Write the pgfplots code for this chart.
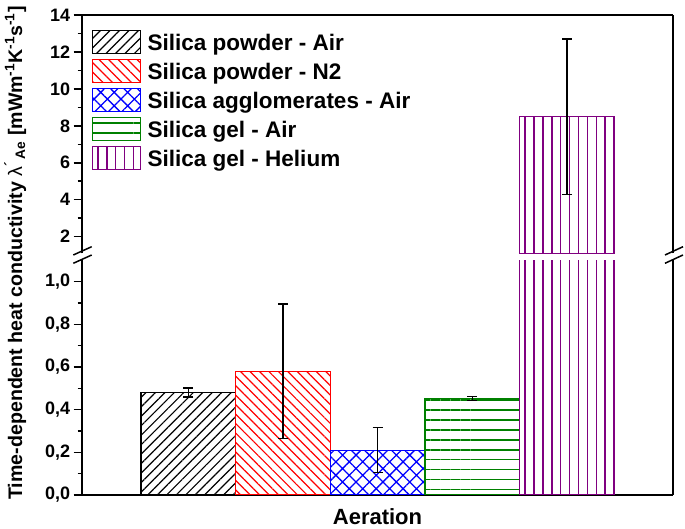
\documentclass[border=0pt]{standalone}
\usepackage{fontspec}
\setmainfont{Liberation Sans}
\usepackage{pgfplots}
\pgfplotsset{compat=1.18}
\usetikzlibrary{patterns.meta}
\definecolor{myred}{RGB}{255,0,0}
\definecolor{myblue}{RGB}{0,0,255}
\definecolor{mygreen}{RGB}{0,128,0}
\definecolor{mypurple}{RGB}{128,0,128}
\tikzset{
 s1/.style={draw=black, line width=1.3pt, pattern={Lines[angle=45,distance=6.7pt,line width=1.2pt]}, pattern color=black},
 s2/.style={draw=myred, line width=1.3pt, pattern={Lines[angle=-45,distance=6.7pt,line width=1.2pt]}, pattern color=myred},
 s3/.style={draw=myblue, line width=1.3pt, pattern={Hatch[angle=45,distance=9.5pt,line width=1.3pt]}, pattern color=myblue},
 s4/.style={draw=mygreen, line width=1.3pt, pattern={Lines[angle=0,distance=9.9pt,line width=1.6pt]}, pattern color=mygreen},
 s5/.style={draw=mypurple, line width=1.3pt, pattern={Lines[angle=90,distance=8.9pt,line width=1.5pt]}, pattern color=mypurple},
}
\pgfplotsset{
 common/.style={
  scale only axis, width=591.3pt,
  xmin=-1.126, xmax=5.119,
  axis line style={line width=1.8pt, -},
  xtick=\empty, ytick pos=left, tick align=outside,
  major tick length=8pt, minor tick length=4pt,
  every tick/.style={line width=1.5pt, black},
  minor y tick num=1,
  /pgf/number format/assume math mode=true,
  yticklabel style={font=\fontsize{18}{18}\selectfont\bfseries},
  ybar, bar width=1, bar shift=0pt,
  eb/.style={error bars/.cd, y dir=both, y explicit,
    error bar style={line width=1.3pt, black},
    error mark options={line width=1.3pt, black, mark size=5pt, rotate=90}, /pgfplots/.cd},
 },
}
\begin{document}
\begin{tikzpicture}[x=1pt,y=1pt]
\useasboundingbox (0,0) rectangle (685,529);
% lower part
\begin{axis}[common,
  at={(81.7pt,34pt)}, anchor=south west, height=234.6pt,
  ymin=0, ymax=1.1,
  axis x line*=bottom, axis y line*=box,
  ytick={0,0.2,0.4,0.6,0.8,1.0},
  yticklabel style={/pgf/number format/.cd, fixed, fixed zerofill, precision=1, use comma},
]
\addplot[s1, eb] coordinates {(0,0.48) +- (0,0.021)};
\addplot[s2, eb] coordinates {(1,0.58) +- (0,0.315)};
\addplot[s3, eb] coordinates {(2,0.21) +- (0,0.105)};
\addplot[s4, eb] coordinates {(3,0.453) +- (0,0.009)};
\addplot[s5] coordinates {(4,8.5)};
\end{axis}
% upper part
\begin{axis}[common,
  at={(81.7pt,275.7pt)}, anchor=south west, height=238.3pt,
  ymin=1.1, ymax=14,
  axis x line*=top, axis y line*=box,
  ytick={2,4,6,8,10,12,14},
  legend style={at={(0.0169,0.937)}, anchor=north west, draw=none, fill=none,
    inner sep=0pt, outer sep=0pt, row sep=5pt, column sep=6.7pt,
    nodes={inner sep=0pt, font=\fontsize{22.5}{22.5}\selectfont\bfseries}},
  legend cell align=left,
  legend image code/.code={\draw[#1] (0pt,-10pt) rectangle (48pt,12.7pt);},
]
\addlegendimage{s1}
\addlegendimage{s2}
\addlegendimage{s3}
\addlegendimage{s4}
\addlegendimage{s5}
\addplot[forget plot, s5, eb] coordinates {(4,8.5) +- (0,4.2)};
\legend{Silica powder - Air, Silica powder - N2, Silica agglomerates - Air, Silica gel - Air, Silica gel - Helium}
\end{axis}
% axis break marks
\draw[line width=1.5pt] (73.3,265.7) -- (91.7,274);
\draw[line width=1.5pt] (73.3,274) -- (91.7,282.3);
\draw[line width=1.5pt] (665,265.7) -- (683,274);
\draw[line width=1.5pt] (665,274) -- (683,282.3);
% labels
\node[anchor=base, inner sep=0pt, font=\fontsize{22}{22}\selectfont\bfseries] at (377.5,4) {Aeration};
\node[rotate=90, anchor=base, inner sep=0pt, font=\fontsize{19.6}{19.6}\selectfont\bfseries] at (22,276)
 {Time-dependent heat conductivity {\mdseries λ}\textsuperscript{´}\textsubscript{\,Ae} [mWm\textsuperscript{-1}K\textsuperscript{-1}s\textsuperscript{-1}]};
\end{tikzpicture}
\end{document}
